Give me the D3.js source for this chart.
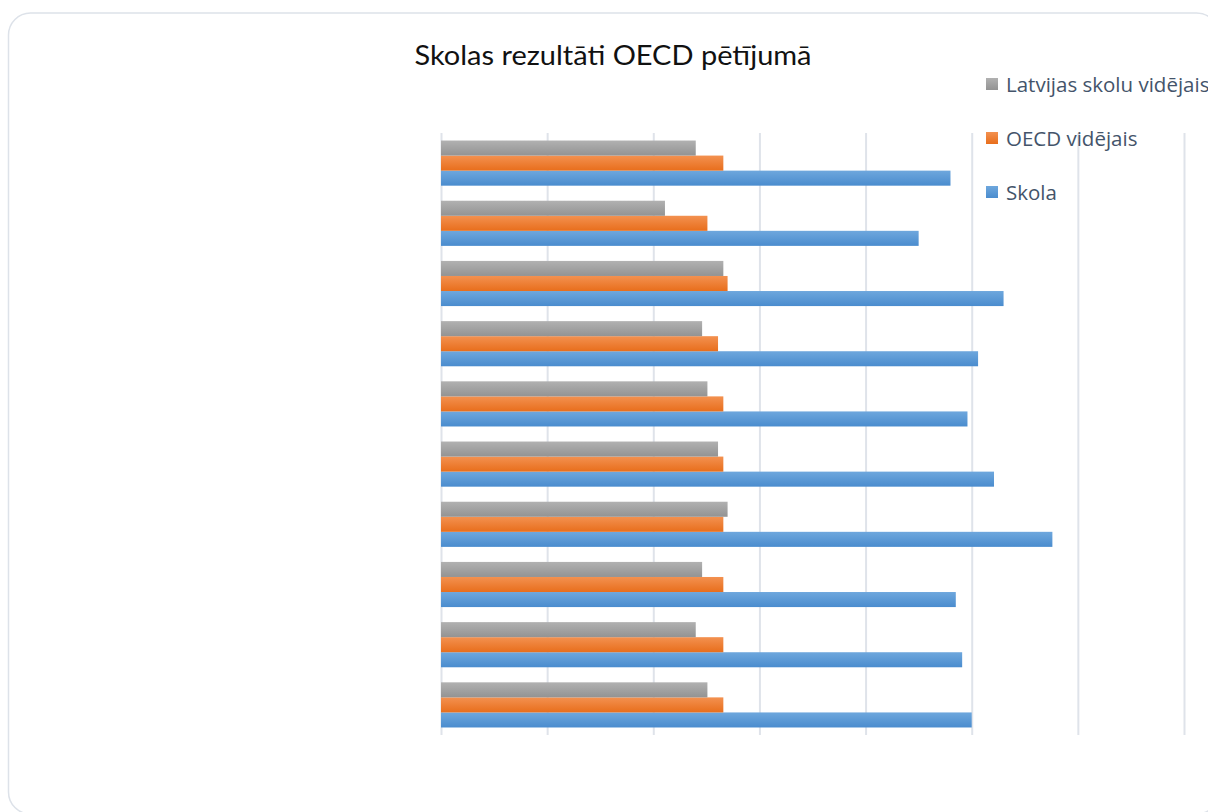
<!DOCTYPE html>
<html>
<head>
<meta charset="utf-8">
<script src="https://cdn.jsdelivr.net/npm/d3@7/dist/d3.min.js"></script>
<style>
  html, body { margin: 0; padding: 0; background: #fff; overflow: hidden; }
  svg { display: block; }
</style>
</head>
<body>
<svg id="chart" width="1208" height="812"></svg>
<script>
// categories from bottom (first) to top (last), as in the source chart
const categories = ['1', '2', '3', '4', '5', '6', '7', '8', '9', '10'];
const seriesNames = ['Skola', 'OECD vidējais', 'Latvijas skolu vidējais'];
const skola = [500, 491, 485, 576, 521, 496, 506, 530, 450, 480];
const oecd = [266, 266, 266, 266, 266, 266, 261, 270, 251, 266];
const latvija = [251, 240, 246, 270, 261, 251, 246, 266, 211, 240];
const xTicks = [0, 100, 200, 300, 400, 500, 600, 700];

const WIDTH = 1208,
      HEIGHT = 812,
      PLOT_LEFT = 441,
      PLOT_RIGHT = 1184,
      PLOT_TOP = 133,
      PLOT_BOTTOM = 735;

const colors = {
  'Skola': ['#6ea7dd', '#4a8cce'],
  'OECD vidējais': ['#f39150', '#e86e1c'],
  'Latvijas skolu vidējais': ['#b1b1b1', '#939393']
};

const seriesData = [skola, oecd, latvija];

const svg = d3.select('#chart');

// gradients for the bars
const defs = svg.append('defs');
seriesNames.forEach((name, i) => {
  const g = defs.append('linearGradient')
    .attr('id', 'grad' + i)
    .attr('x1', 0).attr('y1', 0).attr('x2', 0).attr('y2', 1);
  g.append('stop').attr('offset', '0%').attr('stop-color', colors[name][0]);
  g.append('stop').attr('offset', '100%').attr('stop-color', colors[name][1]);
});

// chart frame
svg.append('rect')
  .attr('x', 8.5).attr('y', 13)
  .attr('width', 1210).attr('height', 801)
  .attr('rx', 22).attr('ry', 22)
  .attr('fill', '#fff')
  .attr('stroke', '#dde2e9')
  .attr('stroke-width', 1.5);

let x = d3.scaleLinear()
  .domain([0, 700])
  .range([PLOT_LEFT, PLOT_RIGHT]);

// first category at the bottom
let y = d3.scaleBand()
  .domain(categories)
  .range([PLOT_BOTTOM, PLOT_TOP])
  .paddingInner(0.25)
  .paddingOuter(0.125);

// series inside a group: Skola at the bottom, Latvija on top
let ySub = d3.scaleBand()
  .domain(seriesNames)
  .range([y.bandwidth(), 0]);

// gridlines
let xAxis = d3.axisBottom(x)
  .tickValues(xTicks)
  .tickSize(PLOT_BOTTOM - PLOT_TOP)
  .tickFormat('');

svg.append('g')
  .attr('class', 'grid')
  .attr('transform', `translate(0,${PLOT_TOP})`)
  .call(xAxis)
  .call(g => g.select('.domain').remove())
  .selectAll('line')
    .attr('stroke', '#dfe3ea')
    .attr('stroke-width', 2);

// bars
const groups = svg.append('g')
  .selectAll('g')
  .data(categories)
  .enter()
  .append('g')
  .attr('transform', d => `translate(0,${y(d)})`);

groups.selectAll('rect')
  .data((c, ci) => seriesNames.map((s, si) => ({ s, si, v: seriesData[si][ci] })))
  .enter()
  .append('rect')
  .attr('x', x(0))
  .attr('y', d => ySub(d.s))
  .attr('width', d => x(d.v) - x(0))
  .attr('height', ySub.bandwidth())
  .attr('fill', d => `url(#grad${d.si})`);

// title
svg.append('text')
  .attr('x', 613)
  .attr('y', 65)
  .attr('text-anchor', 'middle')
  .attr('font-family', 'Lato, sans-serif')
  .attr('font-size', 26)
  .attr('textLength', 397)
  .attr('lengthAdjust', 'spacingAndGlyphs')
  .attr('fill', '#111')
  .text('Skolas rezultāti OECD pētījumā');

// legend, reversed order as in the source
const legendItems = seriesNames.slice().reverse();
const legend = svg.append('g')
  .selectAll('g')
  .data(legendItems)
  .enter()
  .append('g')
  .attr('transform', (d, i) => `translate(986,${84 + i * 54})`);

legend.append('rect')
  .attr('x', 0).attr('y', -6)
  .attr('width', 12).attr('height', 12)
  .attr('fill', d => `url(#grad${seriesNames.indexOf(d)})`);

legend.append('text')
  .attr('x', 20)
  .attr('y', 7.5)
  .attr('font-family', 'Open Sans, sans-serif')
  .attr('font-size', 20.5)
  .attr('fill', '#44546a')
  .text(d => d);
</script>
</body>
</html>
